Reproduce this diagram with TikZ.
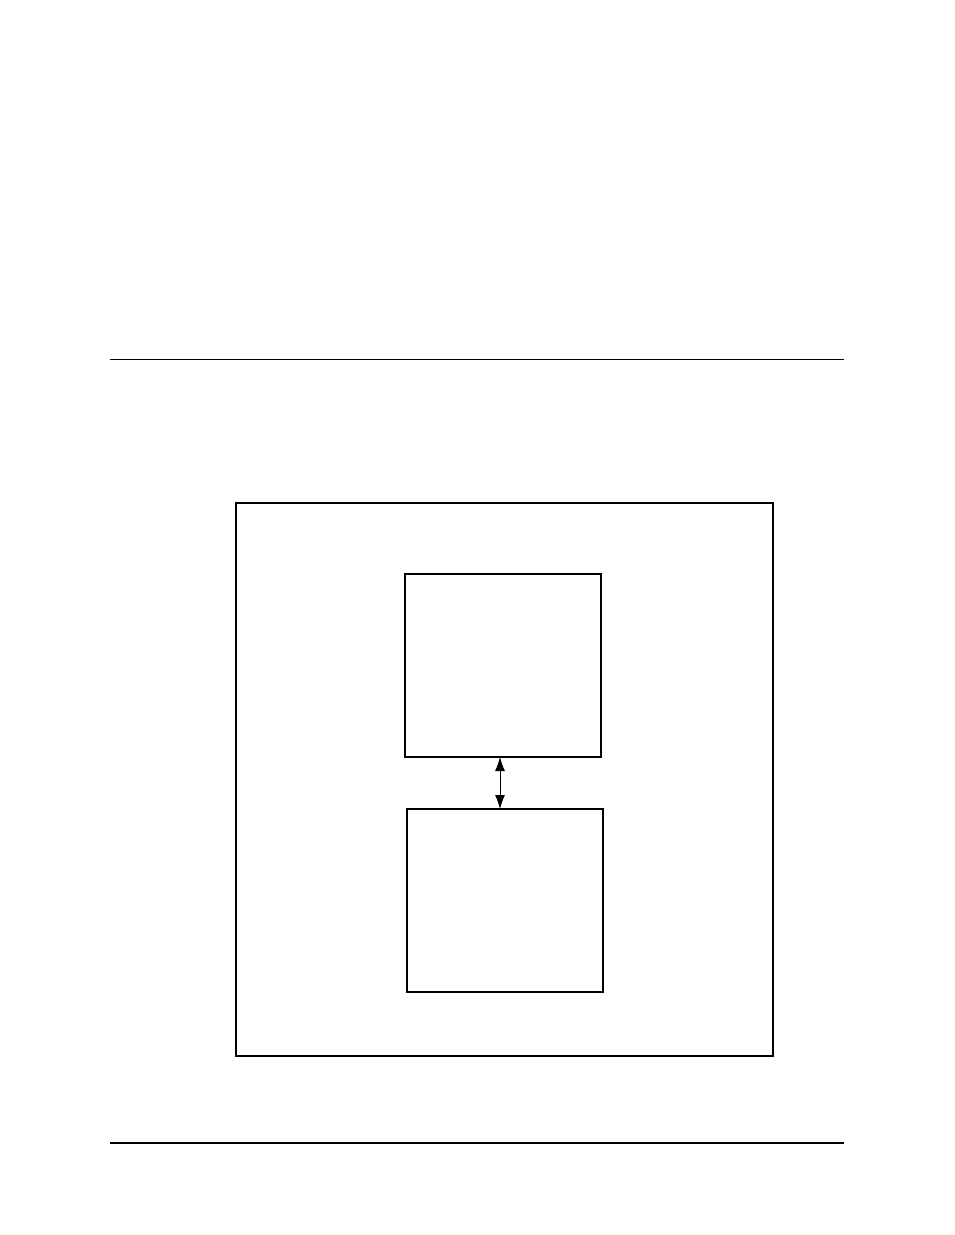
\documentclass[tikz,border=0pt]{standalone}
\usepackage{tikz}
\usetikzlibrary{arrows.meta}

\begin{document}
\begin{tikzpicture}[x=1pt,y=-1pt,
    blockbox/.style={draw,line width=2.4pt,minimum width=196pt,minimum height=183pt,inner sep=0pt,outer sep=0pt}]
    % page size
    \useasboundingbox (0,0) rectangle (954,1235);

    % draw horizontal rules
    \draw[line width=0.8pt] (110,359) -- (844,359);
    \draw[line width=2.4pt] (110,1143) -- (844,1143);

    % draw boxes
    \node[draw,line width=2.4pt,minimum width=537pt,minimum height=553pt,inner sep=0pt] (outer) at (504.5,779.5) {};
    \node[blockbox] (upper) at (503,665.5) {};
    \node[blockbox] (lower) at (505,900.5) {};

    % draw arrow
    \coordinate (ax) at (500,800);
    \draw[line width=0.9pt,{Latex[length=14pt,width=10pt]}-{Latex[length=14pt,width=10pt]}] (upper.south -| ax) -- (lower.north -| ax);

\end{tikzpicture}
\end{document}
